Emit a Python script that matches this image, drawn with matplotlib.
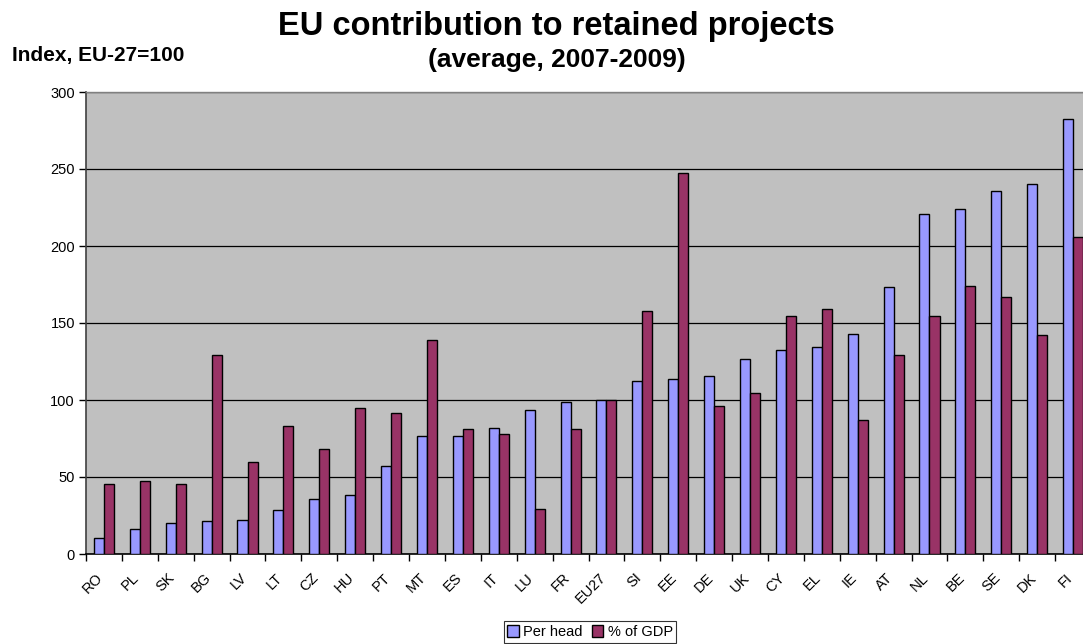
import matplotlib
matplotlib.use("Agg")
import matplotlib.pyplot as plt
import matplotlib.transforms as mtransforms
import numpy as np

countries = ["RO", "PL", "SK", "BG", "LV", "LT", "CZ", "HU", "PT", "MT", "ES", "IT", "LU", "FR",
             "EU27", "SI", "EE", "DE", "UK", "CY", "EL", "IE", "AT", "NL", "BE", "SE", "DK", "FI"]
per_head = [10.6, 16.0, 19.9, 21.5, 22.4, 28.7, 35.7, 38.3, 57.4, 76.5, 76.5, 82.0, 93.5, 98.7,
            100.0, 112.3, 113.8, 115.4, 126.8, 132.5, 134.3, 142.6, 173.6, 221.0, 224.3, 236.0, 240.0, 282.3]
pct_gdp = [45.4, 47.2, 45.4, 129.5, 59.8, 82.8, 68.5, 94.8, 91.3, 138.7, 80.9, 78.0, 28.9, 81.1,
           100.0, 157.8, 247.2, 95.8, 104.7, 154.5, 159.0, 87.2, 129.2, 154.5, 174.0, 167.0, 142.0, 205.7]
y_ticks = [0, 50, 100, 150, 200, 250, 300]

plt.rcParams['font.family'] = ['Liberation Sans', 'DejaVu Sans']

W, H = 1083, 644
fig = plt.figure(figsize=(W / 100, H / 100), dpi=100)
fig.patch.set_facecolor('white')

left_px, right_px, top_px, bottom_px = 86, 1091, 92, 554
ax = fig.add_axes([left_px / W, 1 - bottom_px / H, (right_px - left_px) / W, (bottom_px - top_px) / H])
ax.set_facecolor('#C0C0C0')

x = np.arange(len(countries))
bw = 0.28
ax.bar(x - bw / 2, per_head, bw, color='#9999FF', edgecolor='black', linewidth=1.0, label='Per head', zorder=3)
ax.bar(x + bw / 2, pct_gdp, bw, color='#993366', edgecolor='black', linewidth=1.0, label='% of GDP', zorder=3)

ax.set_xlim(-0.5, len(countries) - 0.5)
ax.set_ylim(0, 300)
ax.set_yticks(y_ticks)
ax.set_yticklabels([str(v) for v in y_ticks], fontsize=10.5)
ax.yaxis.grid(True, color='black', linewidth=0.9, zorder=1)
ax.set_axisbelow(True)

ax.set_xticks(x)
ax.set_xticklabels(countries, fontsize=10.5, rotation=45, ha='right', va='top', rotation_mode='anchor')
ax.tick_params(axis='x', which='major', length=0, pad=12)
offset = mtransforms.ScaledTranslation(-8 / 100, 0 / 100, fig.dpi_scale_trans)
for lab in ax.get_xticklabels():
    lab.set_transform(lab.get_transform() + offset)
ax.set_xticks(np.arange(-0.5, len(countries), 1.0), minor=True)
ax.tick_params(axis='x', which='minor', length=5, width=1, color='black', direction='out')
ax.tick_params(axis='y', length=5, width=1, color='black', direction='out', pad=3)

for s in ['top', 'right']:
    ax.spines[s].set_color('#808080')
    ax.spines[s].set_linewidth(1)
ax.spines['left'].set_color('#404040')
ax.spines['left'].set_linewidth(1.2)
ax.spines['bottom'].set_color('black')
ax.spines['bottom'].set_linewidth(1.2)

fig.text(556 / W, 1 - 35 / H, 'EU contribution to retained projects', ha='center', va='baseline',
         fontsize=23.5, fontweight='bold')
fig.text(557 / W, 1 - 67 / H, '(average, 2007-2009)', ha='center', va='baseline',
         fontsize=19, fontweight='bold')
fig.text(12 / W, 1 - 61 / H, 'Index, EU-27=100', ha='left', va='baseline',
         fontsize=15, fontweight='bold')

leg = fig.legend(loc='center', bbox_to_anchor=(590 / W, 1 - 632 / H), ncol=2, fontsize=10.5,
                 handlelength=0.8, handleheight=0.8, handletextpad=0.3, columnspacing=0.6,
                 borderpad=0.25, fancybox=False, frameon=True, borderaxespad=0)
leg.get_frame().set_edgecolor('black')
leg.get_frame().set_linewidth(0.8)

fig.savefig('out.png', dpi=100)
